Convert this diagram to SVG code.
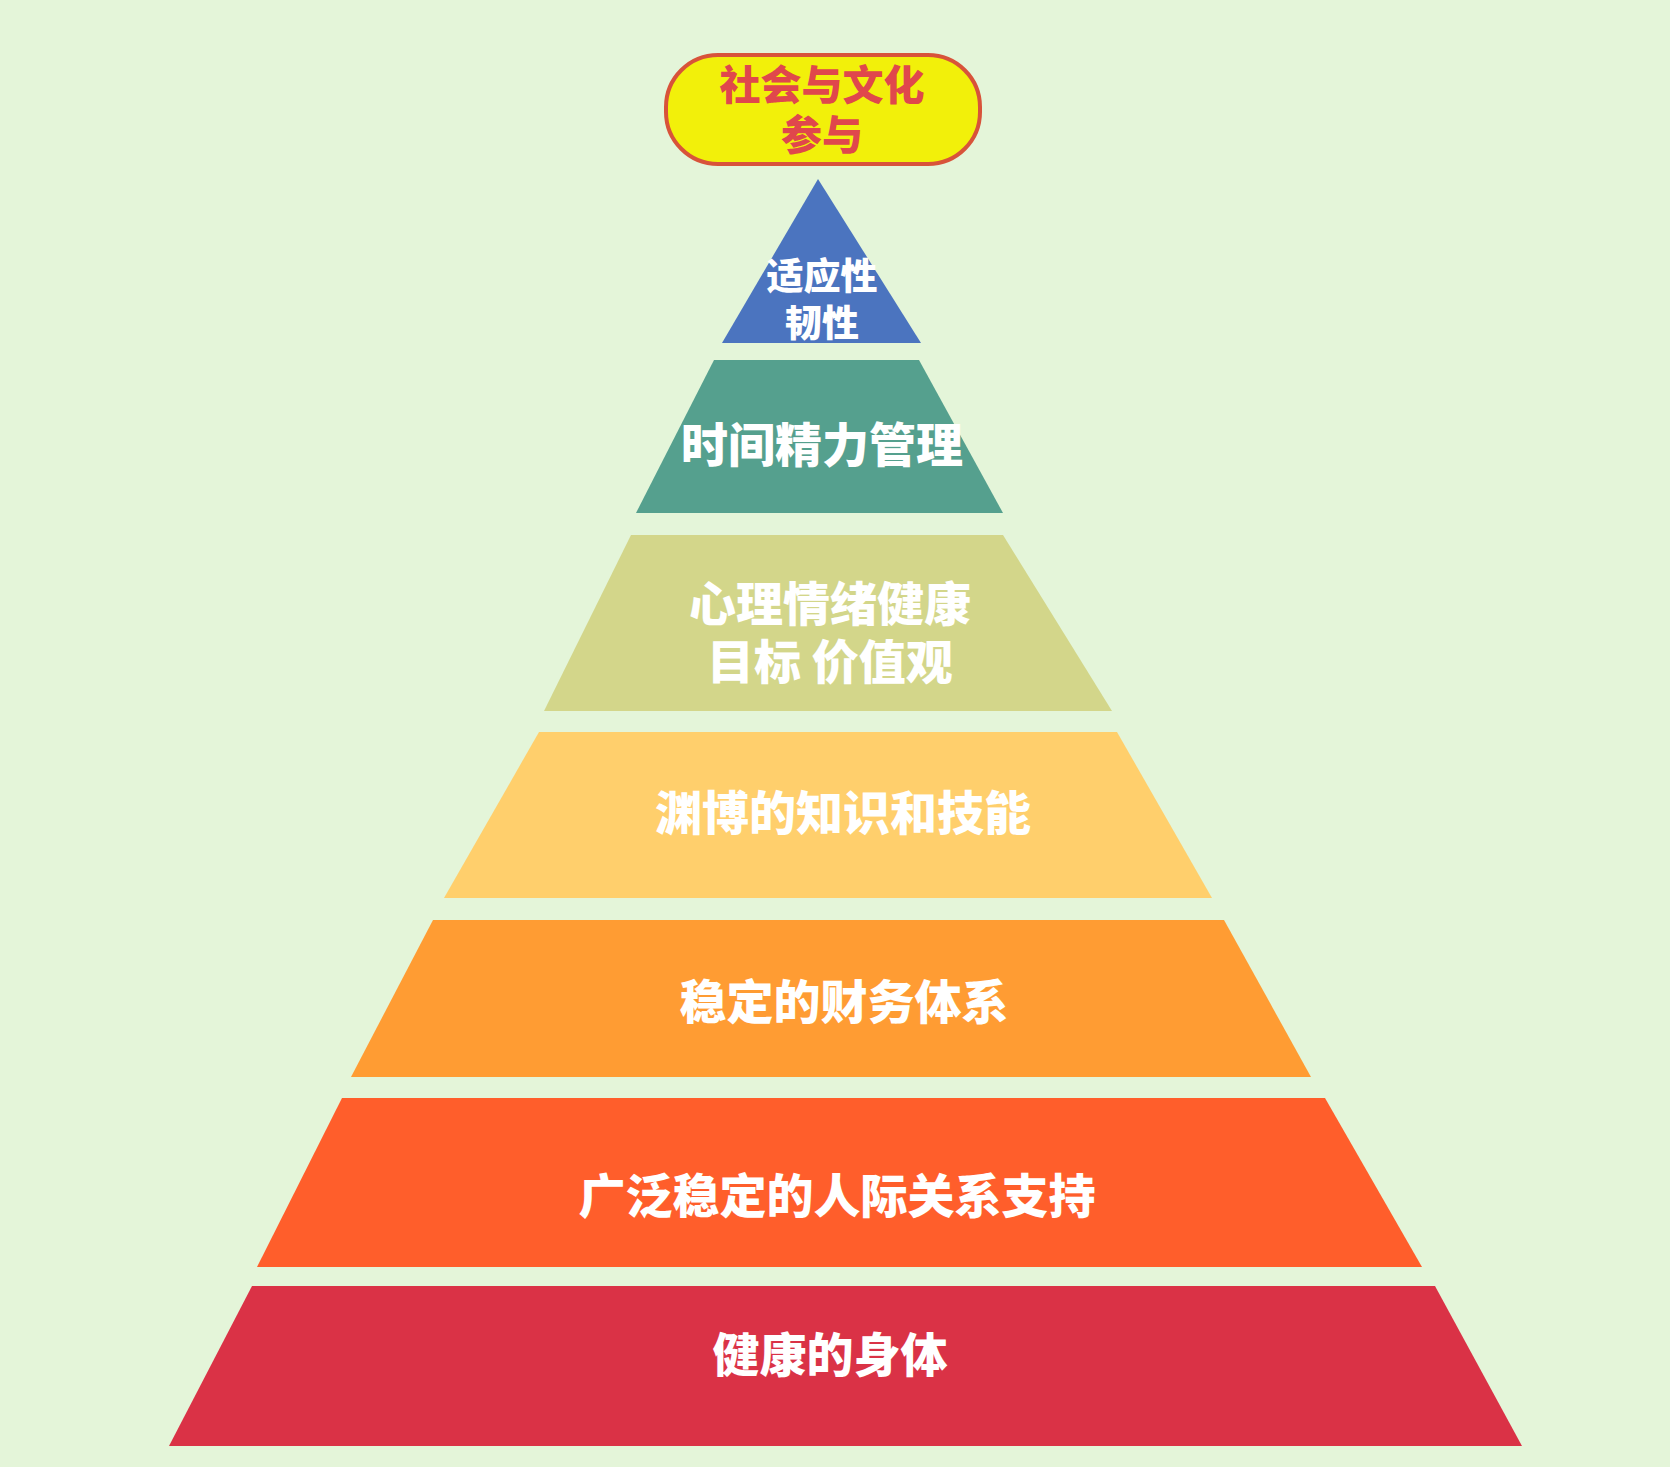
<svg xmlns="http://www.w3.org/2000/svg" width="1670" height="1467" viewBox="0 0 1670 1467">
<style>
.t{font-family:"Noto Sans CJK SC","Noto Sans CJK TC",sans-serif;font-weight:900;text-anchor:middle;fill:#ffffff;font-size:47px}
.s{font-size:37px}
.p{font-size:41px;fill:#e0474c}
</style>
<rect width="1670" height="1467" fill="#e4f5d9"/>
<g id="top-pill">
<rect x="666" y="55" width="314" height="109" rx="52" ry="52" fill="#f2f00a" stroke="#d8533a" stroke-width="4"/>
<text class="t p" x="822" y="100">社会与文化<tspan x="822" y="150">参与</tspan></text>
</g>
<g id="tier1">
<polygon points="818,179 921,343 722,343" fill="#4b74bf"/>
<text class="t s" x="822" y="289.5">适应性<tspan x="822" y="336.5">韧性</tspan></text>
</g>
<g id="tier2">
<polygon points="714,360 919,360 1003,513 636,513" fill="#55a08e"/>
<text class="t" x="822" y="461.5">时间精力管理</text>
</g>
<g id="tier3">
<polygon points="631,535 1003,535 1112,711 544,711" fill="#d3d68a"/>
<text class="t" x="830" y="621">心理情绪健康<tspan x="830" y="679">目标 价值观</tspan></text>
</g>
<g id="tier4">
<polygon points="539,732 1117,732 1212,898 444,898" fill="#ffcf6c"/>
<text class="t" x="843" y="830">渊博的知识和技能</text>
</g>
<g id="tier5">
<polygon points="433,920 1224,920 1311,1077 351,1077" fill="#ff9c33"/>
<text class="t" x="844" y="1019">稳定的财务体系</text>
</g>
<g id="tier6">
<polygon points="342,1098 1325,1098 1422,1267 257,1267" fill="#ff5e2b"/>
<text class="t" x="837" y="1212.5">广泛稳定的人际关系支持</text>
</g>
<g id="tier7">
<polygon points="252,1286 1435,1286 1522,1446 169,1446" fill="#da3246"/>
<text class="t" x="830" y="1372">健康的身体</text>
</g>
<g id="connectors"></g>
</svg>
